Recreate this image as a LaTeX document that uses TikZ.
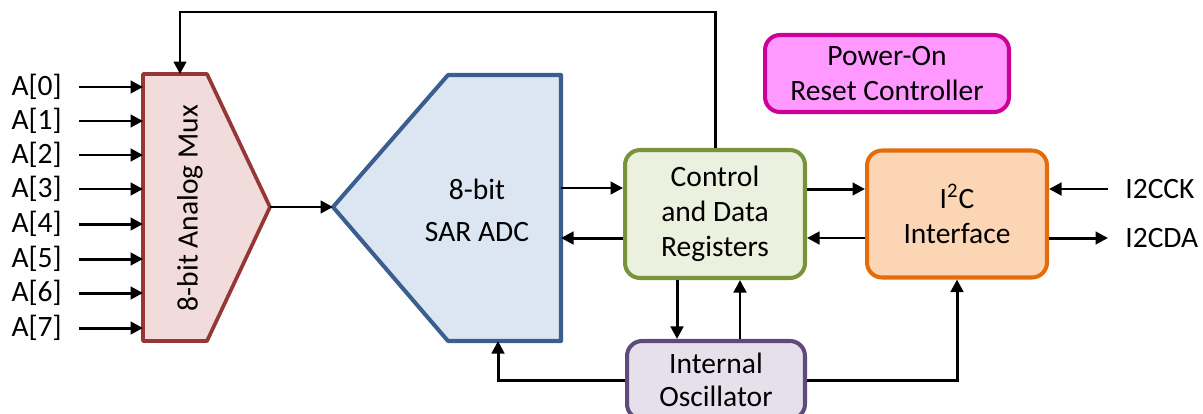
\documentclass[tikz,border=0pt]{standalone}
\usepackage{fontspec}
\setmainfont{Carlito}
\usetikzlibrary{arrows.meta,positioning}
\definecolor{muxfill}{HTML}{F2DCDB}
\definecolor{muxline}{HTML}{953735}
\definecolor{adcfill}{HTML}{DCE6F2}
\definecolor{adcline}{HTML}{3A5F8E}
\definecolor{ctrlfill}{HTML}{EBF1DE}
\definecolor{ctrlline}{HTML}{77933C}
\definecolor{i2cfill}{HTML}{FCD5B5}
\definecolor{i2cline}{HTML}{E46C0A}
\definecolor{porfill}{HTML}{FF99FF}
\definecolor{porline}{HTML}{CC0099}
\definecolor{oscfill}{HTML}{E5E0EC}
\definecolor{oscline}{HTML}{604A7B}
\tikzset{
  arr/.style={line width=1.7pt,-{Triangle[length=0.25cm,width=0.25cm]}},
  blk/.style={rounded corners=0.3cm,line width=2.3pt,align=center,
    minimum width=3.6cm,minimum height=2.56cm,inner sep=0pt},
  pin/.style={inner sep=0pt,inner xsep=0.34cm}
}
\begin{document}
\begin{tikzpicture}[x=0.02cm,y=-0.02cm,font=\fontsize{16.8pt}{20pt}\selectfont]
	\useasboundingbox (0,0) rectangle (1203,413);
	% analog mux
	\draw [line width=2.1pt,draw=muxline,fill=muxfill,line join=round]
		(143,74) -- (207,74) -- (270,207) -- (207,341) -- (143,341) -- cycle;
	\node [rotate=90] (muxtxt) at (190,208) {8-bit Analog Mux};
	\coordinate (muxout) at (270,207);
	\coordinate (muxtop) at (180,74);
	\foreach \i/\y in {0/87,1/121,2/155,3/189,4/224,5/259,6/293,7/328}{
		\node [pin,anchor=east] (a\i) at (79,\y) {A[\i]};
		\coordinate (mi\i) at (143,\y);
		\draw [arr] (a\i.east) -- (mi\i);
	}
	% SAR ADC
	\draw [line width=2.3pt,draw=adcline,fill=adcfill,line join=round]
		(333,207) -- (448,75) -- (561,75) -- (561,341) -- (448,341) -- cycle;
	\node [align=center,font=\fontsize{16.8pt}{24pt}\selectfont] (adctxt) at (477,210) {8-bit\\SAR ADC};
	\coordinate (adcin) at (333,207);
	\coordinate (adco) at (561,188);
	\coordinate (adci) at (561,238);
	\coordinate (adcb) at (498,341);
	% blocks
	\node [blk,draw=ctrlline,fill=ctrlfill] (ctrl) at (715,214) {Control\\and Data\\Registers};
	\node [blk,draw=i2cline,fill=i2cfill,minimum height=2.54cm] (i2c) at (957,214) {I\textsuperscript{2}C\\Interface};
	\node [blk,draw=porline,fill=porfill,minimum width=4.88cm,minimum height=1.54cm] (por) at (887,73.5) {Power-On\\Reset Controller};
	\node [blk,draw=oscline,fill=oscfill,minimum width=3.56cm,minimum height=1.56cm,font=\fontsize{16.8pt}{19pt}\selectfont] (osc) at (716,380) {Internal\\Oscillator};
	\node [pin,anchor=west] (ck) at (1108,189) {I2CCK};
	\node [pin,anchor=west] (da) at (1108,238) {I2CDA};
	\coordinate (top) at (715,12);
	% connections
	\draw [arr] (muxout) -- (adcin);
	\draw [arr] (adco) -- (adco -| ctrl.west);
	\draw [arr] (adci -| ctrl.west) -- (adci);
	\draw [arr] ([yshift=0.5cm]ctrl.east) -- ([yshift=0.5cm]i2c.west);
	\draw [arr] ([yshift=-0.48cm]i2c.west) -- ([yshift=-0.48cm]ctrl.east);
	\draw [arr] (ck.west) -- (ck.west -| i2c.east);
	\draw [arr] (da.west -| i2c.east) -- (da.west);
	\draw [arr] ([xshift=-0.76cm]ctrl.south) -- ([xshift=-0.78cm]osc.north);
	\draw [arr] ([xshift=0.48cm]osc.north) -- ([xshift=0.5cm]ctrl.south);
	\draw [arr] (osc.west) -| (adcb);
	\draw [arr] (osc.east) -| (i2c.south);
	\draw [arr,rounded corners=0pt] (ctrl.north) -- (top) -| (muxtop);
\end{tikzpicture}
\end{document}
